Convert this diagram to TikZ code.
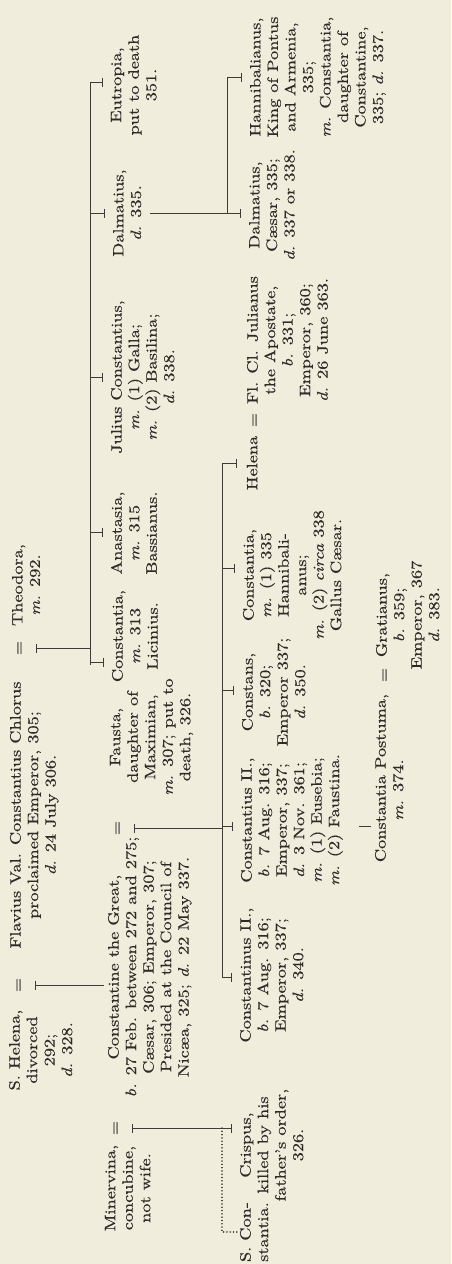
\documentclass[tikz,border=0pt]{standalone}
\usepackage{fontspec}
\setmainfont{lmroman10-regular.otf}[FakeStretch=1.22, FakeBold=0.35, ItalicFont=lmroman10-italic.otf]
\usetikzlibrary{arrows.meta}
\definecolor{paper}{RGB}{240,237,221}
\definecolor{ink}{RGB}{45,43,38}
\definecolor{rule}{RGB}{62,60,55}
\newcommand{\treefont}{\fontsize{15}{17.5}\selectfont}
\tikzset{
  lbl/.style={rotate=90, anchor=north, align=center, inner sep=0pt, outer sep=0pt,
              font=\treefont, text=ink, execute at begin node=\strut},
  ln/.style={draw=rule, line width=0.9pt},
  ds/.style={ln, shorten <=7pt, {Bar[width=9pt,line width=0.8pt]}-},
  tk/.style={ln, shorten >=8pt, -{Bar[width=9pt,line width=0.8pt]}},
  dots/.style={draw=rule, line width=1.5pt, line cap=round, dash pattern=on 0.1pt off 3.2pt}
}
\begin{document}
\begin{tikzpicture}[x=1pt,y=-1pt]
\fill[paper] (0,0) rectangle (451,1264);
\path[use as bounding box] (0,0) rectangle (451,1264);

% ---------- generation 1 ----------
\node[lbl] (helena) at (9,1050) {S. Helena,\\divorced\\292;\\\textit{d.} 328.};
\node[lbl] (eq1) at (10,985) {=};
\node[lbl] (chlorus) at (10,815) {Flavius Val. Constantius Chlorus\\proclaimed Emperor, 305;\\\textit{d.} 24 July 306.};
\node[lbl] (eq2) at (11,648) {=};
\node[lbl] (theodora) at (12,585) {Theodora,\\\textit{m.} 292.};

% ---------- generation 2 ----------
\node[lbl] (minervina) at (105,1188) {Minervina,\\concubine,\\not wife.};
\node[lbl] (eq3) at (107,1128) {=};
\node[lbl] (great) at (108,967) {Constantine the Great,\\\textit{b.} 27 Feb. between 272 and 275;\\Cæsar, 306; Emperor, 307;\\Presided at the Council of\\Nicæa, 325; \textit{d.} 22 May 337.};
\node[lbl] (eq4) at (109,828) {=};
\node[lbl] (fausta) at (110,737) {Fausta,\\daughter of\\Maximian,\\\textit{m.} 307; put to\\death, 326.};
\node[lbl] (constantiaA) at (112,636) {Constantia,\\\textit{m.} 313\\Licinius.};
\node[lbl] (anastasia) at (111,533) {Anastasia,\\\textit{m.} 315\\Bassianus.};
\node[lbl] (julius) at (111,377) {Julius Constantius,\\\textit{m.} (1) Galla;\\\textit{m.} (2) Basilina;\\\textit{d.} 338.};
\node[lbl] (dalmatiusA) at (113,213) {Dalmatius,\\\textit{d.} 335.};
\node[lbl] (eutropia) at (111,85) {Eutropia,\\put to death\\351.};

% ---------- generation 3 ----------
\node[lbl] (sconst) at (240,1232) {S. Con-\\stantia.};
\node[lbl] (crispus) at (240,1145) {Crispus,\\killed by his\\father's order,\\326.};
\node[lbl] (cnus) at (240,975) {Constantinus II.,\\\textit{b.} 7 Aug. 316;\\Emperor, 337;\\\textit{d.} 340.};
\node[lbl] (cius) at (241,820) {Constantius II.,\\\textit{b.} 7 Aug. 316;\\Emperor, 337;\\\textit{d.} 3 Nov. 361;\\\textit{m.} (1) Eusebia;\\\textit{m.} (2) Faustina.};
\node[lbl] (constans) at (242,692) {Constans,\\\textit{b.} 320;\\Emperor 337;\\\textit{d.} 350.};
\node[lbl] (constantiaB) at (243,575) {Constantia,\\\textit{m.} (1) 335\\Hannibali-\\anus;\\\textit{m.} (2) \textit{circa} 338\\Gallus Cæsar.};
\node[lbl] (helenaB) at (245,463) {Helena};
\node[lbl] (eq5) at (246,420) {=};
\node[lbl] (julianus) at (247,340) {Fl. Cl. Julianus\\the Apostate,\\\textit{b.} 331;\\Emperor, 360;\\\textit{d.} 26 June 363.};
\node[lbl] (dalmatiusB) at (249,205) {Dalmatius,\\Cæsar, 335;\\\textit{d.} 337 or 338.};
\node[lbl] (hannib) at (250,77) {Hannibalianus,\\King of Pontus\\and Armenia,\\335;\\\textit{m.} Constantia,\\daughter of\\Constantine,\\335; \textit{d.} 337.};

% ---------- generation 4 ----------
\node[lbl] (postuma) at (375,778) {Constantia Postuma,\\\textit{m.} 374.\hspace*{24pt}};
\node[lbl] (eq6) at (376,675) {=};
\node[lbl] (gratianus) at (376,615) {Gratianus,\\\textit{b.} 359;\\Emperor, 367\\\textit{d.} 383.};

% ---------- connectors ----------
% Helena = Constantius Chlorus -> Constantine
\draw[ds, shorten >=4pt] (eq1.south) -- (eq1.south -| great.north);

% Constantius Chlorus = Theodora -> their children
\coordinate (tbTop) at (90,665);
\coordinate (tbEnd) at (90,82);
\draw[ds] (eq2.south) -- (eq2.south -| tbTop);
\draw[ln] (tbTop) -- (tbEnd);
\coordinate (t1) at (90,662);
\coordinate (t2) at (90,532);
\coordinate (t3) at (90,377);
\coordinate (t4) at (90,213);
\coordinate (t5) at (90,82);
\draw[tk] (t1) -- (t1 -| constantiaA.north);
\draw[tk] (t2) -- (t2 -| anastasia.north);
\draw[tk] (t3) -- (t3 -| julius.north);
\draw[tk] (t4) -- (t4 -| dalmatiusA.north);
\draw[tk] (t5) -- (t5 -| eutropia.north);

% Minervina = Constantine -> Crispus, S. Constantia
\coordinate (mA) at (222,1128);
\draw[ds] (eq3.south) -- (mA);
\draw[tk] (mA) -- (mA -| crispus.north);
\draw[dots, shorten >=2pt] (mA) |- (sconst.north);

% Constantine = Fausta -> children
\coordinate (cbTop) at (222,977);
\coordinate (cbEnd) at (222,463);
\draw[ds] (eq4.south) -- (eq4.south -| cbTop);
\draw[ln] (cbTop) -- (cbEnd);
\coordinate (c1) at (222,977);
\coordinate (c2) at (222,826);
\coordinate (c3) at (222,690);
\coordinate (c4) at (222,568);
\coordinate (c5) at (222,463);
\draw[tk] (c1) -- (c1 -| cnus.north);
\draw[tk] (c2) -- (c2 -| cius.north);
\draw[tk] (c3) -- (c3 -| constans.north);
\draw[tk] (c4) -- (c4 -| constantiaB.north);
\draw[tk] (c5) -- (c5 -| helenaB.north);

% Dalmatius -> Dalmatius, Hannibalianus
\coordinate (dbTop) at (227,213);
\coordinate (dbEnd) at (227,77);
\draw[ln, shorten <=4pt] (dalmatiusA.south |- dbTop) -- (dbTop);
\draw[ln] (dbTop) -- (dbEnd);
\draw[tk] (dbTop) -- (dbTop -| dalmatiusB.north);
\draw[tk] (dbEnd) -- (dbEnd -| hannib.north);

% Constantius II -> Constantia Postuma
\coordinate (pd) at (359,826);
\draw[ln, shorten >=4pt] (pd) -- (pd -| postuma.north);
\end{tikzpicture}
\end{document}
